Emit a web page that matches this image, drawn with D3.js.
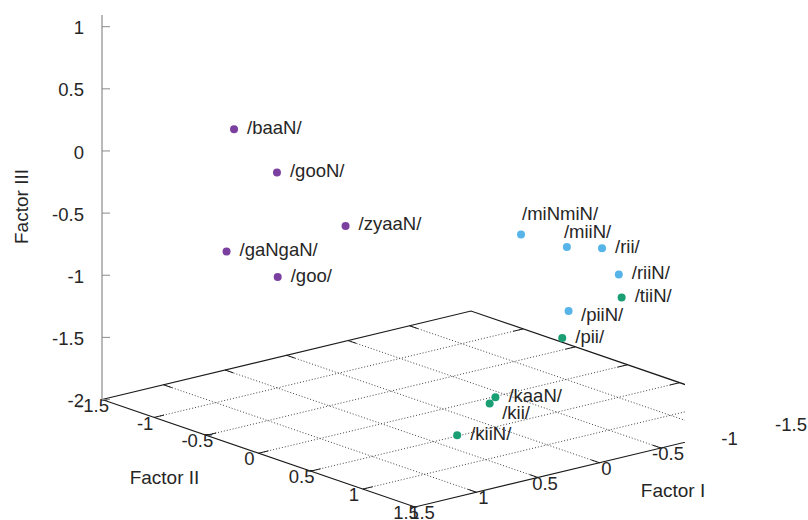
<!DOCTYPE html>
<html>
<head>
<meta charset="utf-8">
<script src="https://cdn.jsdelivr.net/npm/d3@7"></script>
<style>
  body { margin: 0; background: #fff; }
  text { font-family: "Liberation Sans", Arial, sans-serif; fill: #262626; }
</style>
</head>
<body>
<svg id="chart" width="808" height="520"></svg>
<script>
// data: three factor scores per word
var words    = ['/baaN/', '/gooN/', '/zyaaN/', '/gaNgaN/', '/goo/',
                '/miNmiN/', '/miiN/', '/rii/', '/riiN/', '/piiN/',
                '/tiiN/', '/pii/', '/kaaN/', '/kii/', '/kiiN/'];
var factorI   = [0.91, 0.79, 0.86, 0.92, 1.03, -0.38, -0.60, -0.75, -0.81, -0.58, -0.85, -0.52, -0.07, -0.04, 0.47];
var factorII  = [-0.93, -0.66, 0.08, -0.99, -0.37, 0.30, 0.48, 0.64, 0.73, 0.52, 0.71, 0.53, 0.42, 0.40, 0.69];
var factorIII = [0.2, -0.1, -0.3, -0.8, -0.8, -0.6, -0.7, -0.7, -0.9, -1.2, -1.1, -1.4, -1.8, -1.85, -1.9];
var group     = [0, 0, 0, 0, 0, 1, 1, 1, 1, 1, 2, 2, 2, 2, 2];

var ticksI   = [-1.5, -1, -0.5, 0, 0.5, 1, 1.5];
var ticksII  = [-1.5, -1, -0.5, 0, 0.5, 1, 1.5];
var ticksIII = [-2, -1.5, -1, -0.5, 0, 0.5, 1];

// layout
var colors = ['#7b3f9f', '#56b4e9', '#1a9e73'];
var A = [102, 399.5], B = [415, 507], D = [471, 311];   // base plane corners
var clipX = 685;
var labelOffset = {
  '/miNmiN/': [1, -15], '/miiN/': [-3, -8.5], '/piiN/': [12.5, 10], '/kii/': [12.5, 15.5]
};

var fI = d3.scaleLinear().domain([1.5, -1.5]).range([0, 1]);
var fII = d3.scaleLinear().domain([-1.5, 1.5]).range([0, 1]);
var fZ = d3.scaleLinear().domain([-2, 1]).range([0, -372.8]);

function project(x, y, z) {
  return [A[0] + fI(x) * (D[0] - A[0]) + fII(y) * (B[0] - A[0]),
          A[1] + fI(x) * (D[1] - A[1]) + fII(y) * (B[1] - A[1]) + fZ(z)];
}

var svg = d3.select('#chart');
var line = d3.line();

svg.append('clipPath').attr('id', 'clip')
  .append('rect').attr('x', 0).attr('y', 0).attr('width', clipX).attr('height', 520);

var base = svg.append('g').attr('clip-path', 'url(#clip)');

// grid
ticksII.slice(1, -1).forEach(function(y) {
  base.append('path').attr('d', line([project(1.5, y, -2), project(-1.5, y, -2)]))
    .attr('stroke', '#444').attr('stroke-width', 1).attr('stroke-dasharray', '1,2').attr('fill', 'none');
});
ticksI.slice(1, -1).forEach(function(x) {
  base.append('path').attr('d', line([project(x, -1.5, -2), project(x, 1.5, -2)]))
    .attr('stroke', '#444').attr('stroke-width', 1).attr('stroke-dasharray', '1,2').attr('fill', 'none');
});

// border of base
base.append('path')
  .attr('d', line([project(1.5, -1.5, -2), project(1.5, 1.5, -2), project(-1.5, 1.5, -2),
                   project(-1.5, -1.5, -2), project(1.5, -1.5, -2)]))
  .attr('stroke', '#1a1a1a').attr('stroke-width', 1.2).attr('fill', 'none');

// ticks
var tl = 0.08;
ticksII.slice(1, -1).forEach(function(y) {
  base.append('path').attr('d', line([project(1.5, y, -2), project(1.5 - tl, y, -2)])).attr('stroke', '#1a1a1a');
  base.append('path').attr('d', line([project(-1.5, y, -2), project(-1.5 + tl, y, -2)])).attr('stroke', '#1a1a1a');
});
ticksI.slice(1, -1).forEach(function(x) {
  base.append('path').attr('d', line([project(x, 1.5, -2), project(x, 1.5 - tl, -2)])).attr('stroke', '#1a1a1a');
  base.append('path').attr('d', line([project(x, -1.5, -2), project(x, -1.5 + tl, -2)])).attr('stroke', '#1a1a1a');
});

// tick labels
ticksII.forEach(function(y) {
  var p = project(1.5, y, -2);
  svg.append('text').attr('x', p[0] - 9).attr('y', p[1] + 5.5).attr('dy', '0.36em')
    .attr('text-anchor', 'middle').style('font-size', '18.5px').text(y);
});
ticksI.forEach(function(x) {
  var p = project(x, 1.5, -2);
  svg.append('text').attr('x', p[0] + 7).attr('y', p[1] + 5.5).attr('dy', '0.36em')
    .attr('text-anchor', 'middle').style('font-size', '18.5px').text(x);
});

// z axis
var zAxisX = A[0];
svg.append('path').attr('d', line([project(1.5, -1.5, -2), project(1.5, -1.5, 1.094)]))
  .attr('stroke', '#8a8a8a').attr('stroke-width', 1.2);
ticksIII.forEach(function(z) {
  var p = project(1.5, -1.5, z);
  svg.append('path').attr('d', line([p, [p[0] + 8, p[1]]])).attr('stroke', '#8a8a8a');
  svg.append('text').attr('x', p[0] - 18).attr('y', p[1] + 1).attr('dy', '0.36em')
    .attr('text-anchor', 'end').style('font-size', '18.5px').text(z);
});

// axis titles
svg.append('text').attr('x', 164.5).attr('y', 484).attr('text-anchor', 'middle')
  .style('font-size', '19px').text('Factor II');
svg.append('text').attr('x', 673).attr('y', 496.5).attr('text-anchor', 'middle')
  .style('font-size', '19px').text('Factor I');
svg.append('text').attr('transform', 'translate(28,206.5) rotate(-90)').attr('text-anchor', 'middle')
  .style('font-size', '19px').text('Factor III');

// points and labels
var pts = words.map(function(w, i) {
  return { name: w, g: group[i], p: project(factorI[i], factorII[i], factorIII[i]) };
});

svg.selectAll('.pt').data(pts).enter().append('circle')
  .attr('class', 'pt')
  .attr('cx', function(d) { return d.p[0]; })
  .attr('cy', function(d) { return d.p[1]; })
  .attr('r', 4)
  .attr('fill', function(d) { return colors[d.g]; });

svg.selectAll('.lbl').data(pts).enter().append('text')
  .attr('class', 'lbl')
  .attr('x', function(d) { return d.p[0] + (labelOffset[d.name] ? labelOffset[d.name][0] : 13); })
  .attr('y', function(d) { return d.p[1] + (labelOffset[d.name] ? labelOffset[d.name][1] : 4.5); })
  .style('font-size', '18.5px')
  .text(function(d) { return d.name; });
</script>
</body>
</html>
